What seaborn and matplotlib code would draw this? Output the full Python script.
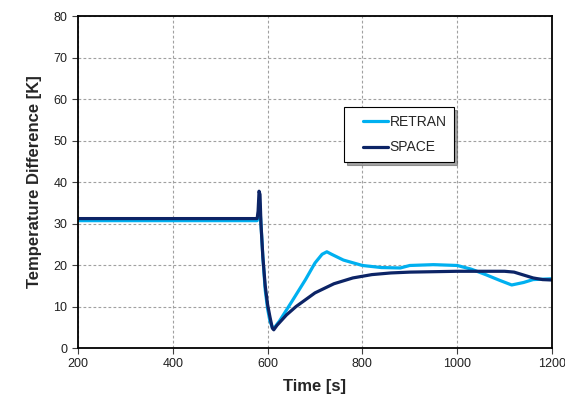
import matplotlib
matplotlib.use("Agg")
import matplotlib.pyplot as plt
from matplotlib.legend_handler import HandlerLine2D
from matplotlib.lines import Line2D
import seaborn as sns
import pandas as pd
import numpy as np

retran_t = [200, 578, 580, 583, 586, 590, 595, 600, 605, 610, 615, 625, 650, 680, 700, 715, 725, 735, 760, 800, 840, 880, 900, 950, 1000, 1030, 1060, 1090, 1115, 1140, 1160, 1200]
retran_v = [30.7, 30.7, 31.5, 35.0, 30.0, 22.0, 14.0, 9.5, 6.5, 5.0, 5.0, 6.5, 11.0, 16.5, 20.5, 22.6, 23.2, 22.6, 21.2, 19.9, 19.4, 19.3, 19.9, 20.1, 19.9, 19.0, 17.7, 16.3, 15.2, 15.8, 16.5, 16.7]

space_t = [200, 578, 580, 582, 584, 586, 590, 595, 600, 605, 610, 613, 620, 640, 660, 700, 740, 780, 820, 860, 900, 950, 1000, 1050, 1100, 1120, 1140, 1160, 1180, 1200]
space_v = [31.2, 31.2, 33.0, 37.8, 37.0, 30.0, 22.0, 15.0, 10.5, 7.5, 4.8, 4.4, 5.5, 8.0, 10.0, 13.3, 15.5, 16.9, 17.7, 18.1, 18.3, 18.4, 18.5, 18.5, 18.5, 18.3, 17.6, 16.9, 16.5, 16.4]

x_ticks = [200, 400, 600, 800, 1000, 1200]
y_ticks = [0, 10, 20, 30, 40, 50, 60, 70, 80]

df = pd.concat([
    pd.DataFrame({"Time": retran_t, "Value": retran_v, "Series": "RETRAN"}),
    pd.DataFrame({"Time": space_t, "Value": space_v, "Series": "SPACE"}),
])

sns.set_style("white")
plt.rcParams["font.family"] = ["Liberation Sans", "DejaVu Sans"]

fig = plt.figure(figsize=(5.65, 4.01), dpi=100)
ax = fig.add_axes([0.138, 0.132, 0.839, 0.828])

sns.lineplot(data=df, x="Time", y="Value", hue="Series",
             palette={"RETRAN": "#00B0F0", "SPACE": "#0C2466"},
             linewidth=2.3, ax=ax, sort=False, estimator=None)

ax.set_xlim(200, 1200)
ax.set_ylim(0, 80)
ax.set_xticks(x_ticks)
ax.set_yticks(y_ticks)
ax.grid(True, color="#a0a0a0", linestyle=(0, (2.5, 2)), linewidth=0.8)
for s in ax.spines.values():
    s.set_color("black")
    s.set_linewidth(1.3)
ax.tick_params(axis="both", direction="out", length=4, width=0.8, color="#404040",
               labelsize=9, labelcolor="#202020", bottom=True, left=True)
ax.set_xlabel("Time [s]", fontsize=12, fontweight="bold", labelpad=6)
ax.set_ylabel("Temperature Difference [K]", fontsize=12, fontweight="bold", labelpad=8)


class RightLine(HandlerLine2D):
    def create_artists(self, legend, orig_handle, xdescent, ydescent,
                       width, height, fontsize, trans):
        y = height / 2.0 - ydescent
        x0 = -xdescent + width * 0.32
        ln = Line2D([x0, -xdescent + width], [y, y])
        self.update_prop(ln, orig_handle, legend)
        ln.set_transform(trans)
        return [ln]


handles, labels = ax.get_legend_handles_labels()
leg = ax.legend(handles, labels, loc="upper left", bbox_to_anchor=(0.561, 0.726),
                borderaxespad=0, frameon=True, fancybox=False, shadow=True,
                fontsize=10, handlelength=2.6, handletextpad=0.15, borderpad=0.55,
                labelspacing=0.85, title=None,
                handler_map={Line2D: RightLine()})
leg.get_frame().set_edgecolor("black")
leg.get_frame().set_linewidth(0.8)

fig.savefig("out.png", dpi=100)
